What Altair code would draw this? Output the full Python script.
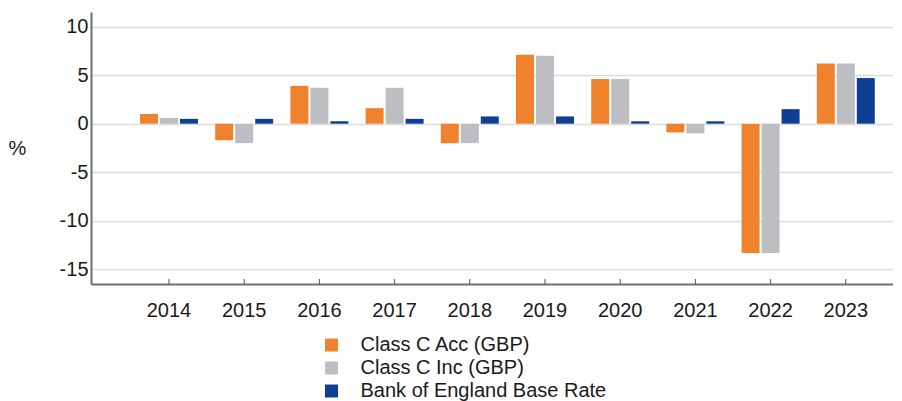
import altair as alt
import pandas as pd

years = ["2014", "2015", "2016", "2017", "2018", "2019", "2020", "2021", "2022", "2023"]
series_names = ["Class C Acc (GBP)", "Class C Inc (GBP)", "Bank of England Base Rate"]
acc = [1.0, -1.7, 3.9, 1.6, -2.0, 7.1, 4.6, -0.9, -13.3, 6.2]
inc = [0.6, -2.0, 3.7, 3.7, -2.0, 7.0, 4.6, -1.0, -13.3, 6.2]
boe = [0.5, 0.5, 0.25, 0.5, 0.75, 0.75, 0.25, 0.25, 1.5, 4.7]
colors = ["#F0822E", "#BDBEC1", "#0E3F94"]
y_ticks = [-15, -10, -5, 0, 5, 10]

rows = []
for name, vals in zip(series_names, [acc, inc, boe]):
    for yr, v in zip(years, vals):
        rows.append({"year": yr, "series": name, "value": v})
df = pd.DataFrame(rows)
ticks_df = pd.DataFrame({"year": years})

W, H = 802, 272
FONT = "Liberation Sans"

x_scale = alt.Scale(domain=years, paddingInner=0.229, paddingOuter=0.447, align=0.729)

bars = alt.Chart(df).mark_bar().encode(
    x=alt.X("year:O", scale=x_scale, sort=years,
            axis=alt.Axis(title=None, labelAngle=0, ticks=False, tickSize=0,
                          labelPadding=16, labelFontSize=20, labelColor="#1a1a1a",
                          domainColor="#6e6e6e", domainWidth=2, grid=False)),
    xOffset=alt.XOffset("series:N", sort=series_names,
                        scale=alt.Scale(domain=series_names, paddingInner=0.1)),
    y=alt.Y("value:Q", scale=alt.Scale(domain=[-16.5, 11.5], nice=False, zero=False),
            axis=alt.Axis(values=y_ticks, title="%", titleAngle=0, titleX=-83,
                          titleY=H / 2, titleAlign="left", titleBaseline="middle",
                          titleFontSize=20, titleFontWeight="normal", titleColor="#1a1a1a",
                          labelFontSize=20, labelColor="#1a1a1a", labelPadding=3,
                          labelExpr="toString(datum.value)",
                          ticks=False, tickSize=0, domainColor="#6e6e6e", domainWidth=2,
                          grid=True, gridColor="#dcdcdc", gridWidth=1.5)),
    color=alt.Color("series:N", sort=series_names,
                    scale=alt.Scale(domain=series_names, range=colors),
                    legend=alt.Legend(title=None, orient="none", legendX=230.5, legendY=323,
                                      direction="vertical", symbolType="square",
                                      symbolSize=169, symbolStrokeWidth=0,
                                      labelFontSize=20, labelColor="#1a1a1a", labelLimit=0,
                                      labelOffset=19, rowPadding=3, padding=0)),
)

ticks = alt.Chart(ticks_df).mark_rule(color="#555555", strokeWidth=1).encode(
    x=alt.X("year:O", scale=x_scale, sort=years),
    y=alt.value(H - 5),
    y2=alt.value(H),
)

chart = alt.layer(bars, ticks).properties(
    width=W, height=H, padding={"top": 4, "left": 0, "right": 0, "bottom": 0}
).configure(font=FONT).configure_view(stroke=None)

chart.save("out.html", embed_options={"renderer": "svg", "actions": False})
